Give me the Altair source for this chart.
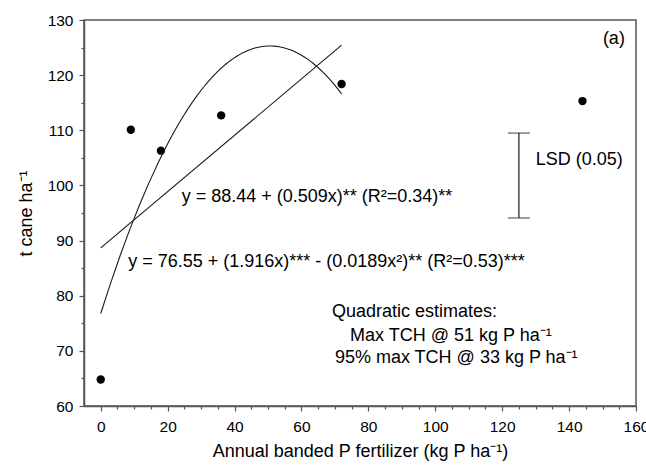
import altair as alt
import pandas as pd

# Mean cane yield (t cane/ha) at each annual banded P rate (kg P/ha)
p_rate = [0, 9, 18, 36, 72, 144]
cane_yield = [64.8, 110.1, 106.3, 112.7, 118.4, 115.3]

# Range of rates used for the linear and quadratic response fits
fit_extent = [0, 72]

# LSD (0.05) bar
lsd_x = [125]
lsd_low = [94.1]
lsd_high = [109.5]

# Axis ticks: every 5 units, labelled every 20 (x) and every 10 (y)
x_ticks = list(range(0, 161, 5))
y_ticks = list(range(60, 131, 5))

# Annotations
note_text = [
    "(a)",
    "y = 88.44 + (0.509x)** (R²=0.34)**",
    "y = 76.55 + (1.916x)*** - (0.0189x²)** (R²=0.53)***",
    "Quadratic estimates:",
    "Max TCH @ 51 kg P ha⁻¹",
    "95% max TCH @ 33 kg P ha⁻¹",
    "LSD (0.05)",
]
note_x = [150.1, 24.2, 8.2, 69.1, 74.5, 70.0, 130.0]
note_y = [126.6, 97.9, 86.1, 77.0, 72.7, 68.7, 104.6]

FONT = "Liberation Sans"
INK = "#1a1a1a"
FRAME = "#555555"

df = pd.DataFrame({"p": p_rate, "tch": cane_yield})
lsd = pd.DataFrame({"x": lsd_x, "lo": lsd_low, "hi": lsd_high})
notes = pd.DataFrame({"x": note_x, "y": note_y, "label": note_text})

xs = alt.Scale(domain=[-5, 160], nice=False, zero=False)
ys = alt.Scale(domain=[60, 130], nice=False, zero=False)

x_axis = alt.Axis(
    orient="bottom",
    values=x_ticks,
    tickSize={"condition": {"test": "datum.value % 20 === 0", "value": 5}, "value": 3},
    labelExpr="datum.value % 20 === 0 ? datum.label : ''",
    labelOverlap=False,
    labelFlush=False,
    labelPadding=8,
    title="Annual banded P fertilizer (kg P ha⁻¹)",
    titlePadding=8,
)
y_axis = alt.Axis(
    orient="left",
    values=y_ticks,
    tickSize={"condition": {"test": "datum.value % 10 === 0", "value": 5}, "value": 3},
    labelExpr="datum.value % 10 === 0 ? datum.label : ''",
    labelOverlap=False,
    labelFlush=False,
    labelPadding=6,
    title="t cane ha⁻¹",
    titlePadding=12,
)

points = alt.Chart(df).mark_circle(size=70, color="black", opacity=1).encode(
    x=alt.X("p:Q", scale=xs, axis=x_axis),
    y=alt.Y("tch:Q", scale=ys, axis=y_axis),
)

fit_base = alt.Chart(df).transform_filter(
    alt.FieldRangePredicate(field="p", range=fit_extent)
)
linear_fit = fit_base.transform_regression(
    "p", "tch", method="linear", extent=fit_extent
).mark_line(color=INK, strokeWidth=1.1).encode(
    x=alt.X("p:Q", scale=xs, axis=None),
    y=alt.Y("tch:Q", scale=ys, axis=None),
)
quad_fit = fit_base.transform_regression(
    "p", "tch", method="poly", order=2, extent=fit_extent
).mark_line(color=INK, strokeWidth=1.1).encode(
    x=alt.X("p:Q", scale=xs, axis=None),
    y=alt.Y("tch:Q", scale=ys, axis=None),
)

lsd_bar = alt.Chart(lsd).mark_rule(color=INK, strokeWidth=1.2).encode(
    x=alt.X("x:Q", scale=xs, axis=None),
    y=alt.Y("lo:Q", scale=ys, axis=None),
    y2="hi:Q",
)
lsd_caps = alt.Chart(lsd).transform_fold(["lo", "hi"], as_=["end", "val"]).mark_tick(
    orient="horizontal", size=22, thickness=1.2, color=INK
).encode(
    x=alt.X("x:Q", scale=xs, axis=None),
    y=alt.Y("val:Q", scale=ys, axis=None),
)

labels = alt.Chart(notes).mark_text(
    align="left", baseline="middle", font=FONT, fontSize=18, color="black"
).encode(
    x=alt.X("x:Q", scale=xs, axis=None),
    y=alt.Y("y:Q", scale=ys, axis=None),
    text="label:N",
)

chart = (
    alt.layer(points, linear_fit, quad_fit, lsd_bar, lsd_caps, labels)
    .resolve_axis(x="independent", y="independent")
    .properties(
        width=552,
        height=386,
        autosize=alt.AutoSizeParams(type="none"),
        padding={"left": 84, "top": 20, "right": 10, "bottom": 67},
        background="white",
    )
    .configure_view(stroke=FRAME, strokeWidth=1.5)
    .configure_axis(
        grid=False,
        domainColor=FRAME,
        domainWidth=1.5,
        tickColor=FRAME,
        tickWidth=1.2,
        labelFont=FONT,
        labelFontSize=15.5,
        labelColor="black",
        titleFont=FONT,
        titleFontSize=18,
        titleFontWeight="normal",
        titleColor="black",
    )
)

chart.save("out.html", embed_options={"renderer": "svg", "actions": False})
